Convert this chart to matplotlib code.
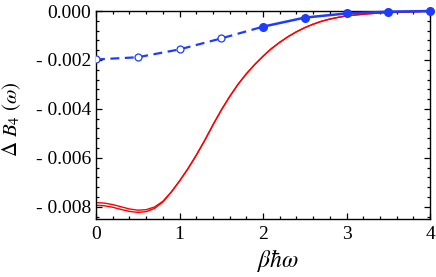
import numpy as np
import matplotlib
matplotlib.use("Agg")
import matplotlib.pyplot as plt
from matplotlib.ticker import MultipleLocator, FuncFormatter

# red curve (two nearly coincident branches, split on the left)
x_red = [0.0, 0.1, 0.2, 0.3, 0.4, 0.5, 0.6, 0.7, 0.8, 0.9, 1.0, 1.1, 1.2, 1.3, 1.4,
         1.5, 1.6, 1.7, 1.8, 1.9, 2.0, 2.1, 2.2, 2.3, 2.4, 2.5, 2.6, 2.7, 2.8, 2.9,
         3.0, 3.2, 3.4, 3.6, 3.8, 4.0]
red_upper = [-0.00783, -0.00785, -0.00791, -0.00800, -0.00809, -0.00814, -0.00812,
             -0.00801, -0.00778, -0.00740, -0.00695, -0.00645, -0.00590, -0.00530,
             -0.00466, -0.00405, -0.00350, -0.00300, -0.00257, -0.00219, -0.00185,
             -0.00154, -0.00128, -0.00105, -0.00085, -0.00068, -0.00054, -0.00042,
             -0.00033, -0.00026, -0.00020, -0.00013, -0.00008, -0.00005, -0.00003,
             -0.00001]
red_lower = [-0.00794, -0.00796, -0.00802, -0.00811, -0.00819, -0.00823, -0.00820,
             -0.00807, -0.00781, -0.00741, -0.00695, -0.00645, -0.00590, -0.00530,
             -0.00466, -0.00405, -0.00350, -0.00300, -0.00257, -0.00219, -0.00185,
             -0.00154, -0.00128, -0.00105, -0.00085, -0.00068, -0.00054, -0.00042,
             -0.00033, -0.00026, -0.00020, -0.00013, -0.00008, -0.00005, -0.00003,
             -0.00001]

# blue points: open (dashed part) and filled (solid part)
x_open = [0.0, 0.5, 1.0, 1.5, 2.0]
y_open = [-0.00198, -0.00189, -0.00157, -0.00112, -0.00064]
x_fill = [2.0, 2.5, 3.0, 3.5, 4.0]
y_fill = [-0.00064, -0.00027, -0.00010, -0.00003, 0.0]

plt.rcParams['font.family'] = ['Liberation Serif', 'DejaVu Serif']
plt.rcParams['mathtext.fontset'] = 'stix'

blue = '#1e3cff'

fig = plt.figure(figsize=(4.36, 2.77), dpi=100)
ax = fig.add_axes([96/436, 1 - 219/277, (430-96)/436, (219-11)/277])

ax.plot(x_red, red_upper, '-', color='red', lw=1.0, zorder=2)
ax.plot(x_red, red_lower, '-', color='red', lw=1.0, zorder=2)

ax.plot(x_open, y_open, '--', color=blue, lw=1.6, dashes=(4, 2.5), zorder=3)
ax.plot(x_open[:-1], y_open[:-1], 'o', color=blue, mfc='white', ms=5, mew=0.9, zorder=4)
ax.plot(x_fill, y_fill, '-o', color=blue, lw=1.8, ms=5.5, zorder=4, clip_on=False)

ax.set_xlim(0, 4)
ax.set_ylim(-0.0085, 0)

ax.xaxis.set_major_locator(MultipleLocator(1))
ax.xaxis.set_minor_locator(MultipleLocator(0.2))
ax.yaxis.set_major_locator(MultipleLocator(0.002))
ax.yaxis.set_minor_locator(MultipleLocator(0.0004))


def fmt(v, pos):
  if abs(v) < 1e-12:
    return '0.000'
  if v < 0:
    return '- %.3f' % abs(v)
  return '%.3f' % v


ax.yaxis.set_major_formatter(FuncFormatter(fmt))
ax.tick_params(which='both', direction='in', top=True, right=True, labelsize=14, width=0.9)
ax.tick_params(which='major', length=4)
ax.tick_params(which='minor', length=2)
ax.tick_params(axis='x', pad=5)
for s in ax.spines.values():
  s.set_linewidth(1.0)

ax.set_xlabel(r'$\beta\hbar\omega$', fontsize=17)
ax.set_ylabel(r'$\Delta\ B_4\ (\omega)$', fontsize=15)
ax.xaxis.set_label_coords(0.545, -0.135)
ax.yaxis.set_label_coords(-0.22, 0.48)

fig.savefig('out.png', dpi=100)
